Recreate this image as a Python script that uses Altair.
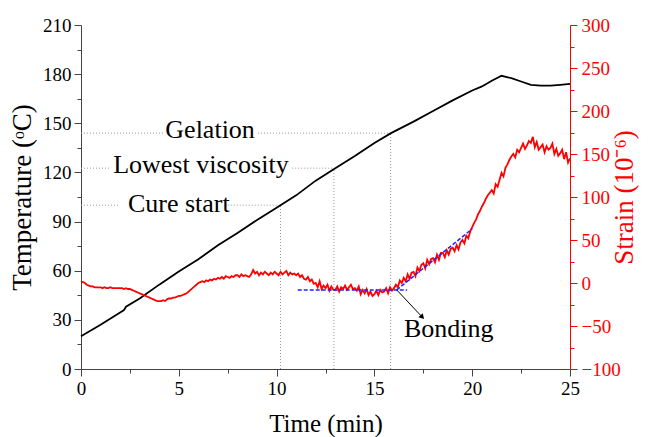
import altair as alt
import pandas as pd

# ---------------- data ----------------
temp_time = [0, 1, 2, 2.2, 2.3, 3, 4, 5, 6, 7, 8, 9, 10, 10.2, 11, 12, 13, 14, 15, 15.85,
             17, 18, 19, 20, 20.5, 21, 21.5, 22, 22.5, 23, 23.5, 24, 24.5, 25]
temp_vals = [20, 27, 34.5, 36, 38, 43, 51.5, 59.5, 67, 75.5, 83, 91, 98.5, 100, 106, 115, 122.5, 130, 138, 144,
             151, 157.5, 164, 170, 172.5, 176, 179, 177.5, 175.5, 173.5, 173, 173, 173.5, 174]

strain_time = [round(i * 0.1, 1) for i in range(251)]
strain_vals = [
    2, 1, 0, -2, -3, -4, -4, -5, -5, -5,
    -5, -6, -5, -6, -6, -5, -6, -6, -6, -6,
    -6, -6, -7, -6, -7, -7, -8, -9, -10, -11,
    -12, -13, -14, -15, -16, -17, -18, -19, -20, -21,
    -21, -21, -20, -21, -19, -18, -18, -17, -17, -16,
    -15, -15, -14, -13, -12, -10, -8, -6, -4, -2,
    0, 1, 2, 1, 3, 2, 4, 3, 5, 4,
    6, 5, 7, 5, 8, 7, 6, 8, 7, 9,
    9, 7, 10, 8, 9, 8, 7, 10, 15, 11,
    13, 9, 12, 10, 13, 11, 9, 12, 10, 13,
    11, 9, 13, 10, 12, 14, 9, 12, 10, 11,
    9, 11, 7, 9, 5, 4, 7, 2, 4, -1,
    0, -5, 2, -7, -3, -6, -2, -9, -4, -8,
    -8, -4, -10, -5, -7, -3, -8, -5, -2, -7,
    -6, -9, -4, -13, -8, -12, -7, -14, -10, -15,
    -13, -9, -14, -8, -11, -10, -6, -12, -5, -9,
    -6, -2, -5, 3, 0, 6, 2, 10, 5, 12,
    13, 8, 18, 14, 21, 23, 17, 27, 22, 28,
    29, 24, 33, 27, 35, 35, 30, 38, 33, 40,
    41, 37, 44, 39, 47, 50, 46, 55, 52, 60,
    65, 70, 74, 80, 84, 89, 93, 98, 102, 105,
    108, 104, 115, 112, 120, 128, 124, 134, 138, 143,
    147, 150, 146, 155, 152, 157, 162, 156, 160, 165,
    163, 170, 158, 164, 155, 158, 161, 152, 159, 155,
    157, 162, 150, 156, 148, 151, 155, 144, 152, 140,
    145,
]

# reference (event) lines, temperature scale
event_labels = ["Cure start", "Lowest viscosity", "Gelation"]
event_time = [10.2, 12.93, 15.83]
event_temp = [100, 122.6, 144]
label_gap_start = [2.0, 1.5, 4.2]
label_gap_end = [7.5, 10.8, 9.05]
label_time = [5.0, 6.13, 6.6]
label_temp = [100.7, 124.5, 146]

# fit lines and arrow, strain scale
fit_t0 = [11.08, 16.14]
fit_t1 = [16.67, 20.0]
fit_s0 = [-8, -8]
fit_s1 = [-8, 63]
arrow_t = [16.14, 17.42]
arrow_s = [-8, -39]
bond_label = ["Bonding"]
bond_t = [18.8]
bond_s = [-53]

FONT = "Liberation Serif"

# ---------------- frames ----------------
df_temp = pd.DataFrame({"t": temp_time, "T": temp_vals})
df_strain = pd.DataFrame({"t": strain_time, "s": strain_vals})
df_vert = pd.DataFrame({"t": event_time, "T0": [0] * 3, "T1": event_temp})
hx0, hx1, hy = [], [], []
for i in range(3):
    hx0 += [0, label_gap_end[i]]
    hx1 += [label_gap_start[i], event_time[i]]
    hy += [event_temp[i], event_temp[i]]
df_horiz = pd.DataFrame({"t": hx0, "t1": hx1, "T": hy})
df_lab = pd.DataFrame({"t": label_time, "T": label_temp, "label": event_labels})
df_fit = pd.DataFrame({"t": fit_t0, "t1": fit_t1, "s0": fit_s0, "s1": fit_s1})
df_arrow = pd.DataFrame({"t": [arrow_t[0]], "t1": [arrow_t[1]], "s0": [arrow_s[0]], "s1": [arrow_s[1]]})
df_head = pd.DataFrame({"t": [arrow_t[1]], "s": [arrow_s[1]]})
df_bond = pd.DataFrame({"t": bond_t, "s": bond_s, "label": bond_label})

# ---------------- scales & axes ----------------
xscale = alt.Scale(domain=[0, 25], nice=False)
tscale = alt.Scale(domain=[0, 210], nice=False)
sscale = alt.Scale(domain=[-100, 300], nice=False, zero=False)

common_axis = dict(grid=False, labelFont=FONT, titleFont=FONT, labelFontSize=19, labelFlush=False,
                   titleFontWeight="normal", tickSize=7, tickWidth=1, domainWidth=1)


def minor_dash(step):
    return {"condition": {"test": f"datum.value % {step} !== 0", "value": [4, 20]}, "value": [20, 0]}


x_axis = alt.Axis(values=[i * 2.5 for i in range(11)],
                  labelExpr="datum.value % 5 === 0 ? datum.label : ''",
                  tickDash=minor_dash(5),
                  domainColor="#444444", tickColor="#444444", labelColor="black", titleColor="black",
                  titleFontSize=25, labelPadding=3, titlePadding=13, **common_axis)
y_axis = alt.Axis(orient="left", values=[i * 15 for i in range(15)],
                  labelExpr="datum.value % 30 === 0 ? datum.label : ''",
                  tickDash=minor_dash(30),
                  domainColor="#444444", tickColor="#444444", labelColor="black", titleColor="black",
                  titleFontSize=27, labelPadding=3, titlePadding=6, **common_axis)
s_axis = alt.Axis(orient="right", values=[-100 + i * 25 for i in range(17)],
                  labelExpr="datum.value % 50 === 0 ? datum.label : ''",
                  tickDash=minor_dash(50),
                  domainColor="#ff0000", tickColor="#ff0000", labelColor="#ff0000", titleColor="#ff0000",
                  titleFontSize=27, titleAngle=270, labelPadding=4, titlePadding=18, **common_axis)

# identical x channel in every layer so the shared axis merges cleanly
XE = alt.X("t:Q", scale=xscale, axis=x_axis, title="Time (min)")

# ---------------- temperature layers ----------------
temp_line = alt.Chart(df_temp).mark_line(color="black", strokeWidth=1.8).encode(
    x=XE, y=alt.Y("T:Q", scale=tscale, axis=y_axis, title="Temperature (ᵒC)"))
vert = alt.Chart(df_vert).mark_rule(color="#999999", strokeDash=[1, 2], strokeWidth=1).encode(
    x=XE, y=alt.Y("T0:Q", scale=tscale, axis=None), y2="T1:Q")
horiz = alt.Chart(df_horiz).mark_rule(color="#999999", strokeDash=[1, 2], strokeWidth=1).encode(
    x=XE, x2="t1:Q", y=alt.Y("T:Q", scale=tscale, axis=None))
labels = alt.Chart(df_lab).mark_text(font=FONT, fontSize=26, color="black", baseline="middle").encode(
    x=XE, y=alt.Y("T:Q", scale=tscale, axis=None), text="label:N")

# ---------------- strain layers ----------------
strain_line = alt.Chart(df_strain).mark_line(color="#ff0000", strokeWidth=1.8).encode(
    x=XE, y=alt.Y("s:Q", scale=sscale, axis=s_axis, title="Strain (10⁻⁶)"))
fit = alt.Chart(df_fit).mark_rule(color="#2222ff", strokeDash=[4, 2], strokeWidth=1.5).encode(
    x=XE, x2="t1:Q", y=alt.Y("s0:Q", scale=sscale, axis=None), y2="s1:Q")
arrow = alt.Chart(df_arrow).mark_rule(color="black", strokeWidth=1).encode(
    x=XE, x2="t1:Q", y=alt.Y("s0:Q", scale=sscale, axis=None), y2="s1:Q")
head = alt.Chart(df_head).mark_point(shape="triangle", angle=137, filled=True, color="black",
                                     size=35, opacity=1).encode(
    x=XE, y=alt.Y("s:Q", scale=sscale, axis=None))
bond = alt.Chart(df_bond).mark_text(font=FONT, fontSize=26, color="black", baseline="middle").encode(
    x=XE, y=alt.Y("s:Q", scale=sscale, axis=None), text="label:N")

chart = alt.layer(vert, horiz, temp_line, labels, strain_line, fit, arrow, head, bond).resolve_scale(
    y="independent").properties(
    width=489, height=344,
    autosize="none",
    padding={"left": 81, "top": 25, "right": 79, "bottom": 68},
    background="white",
).configure(font=FONT).configure_view(stroke=None)

chart.save("out.html", embed_options={"renderer": "svg", "actions": False})
